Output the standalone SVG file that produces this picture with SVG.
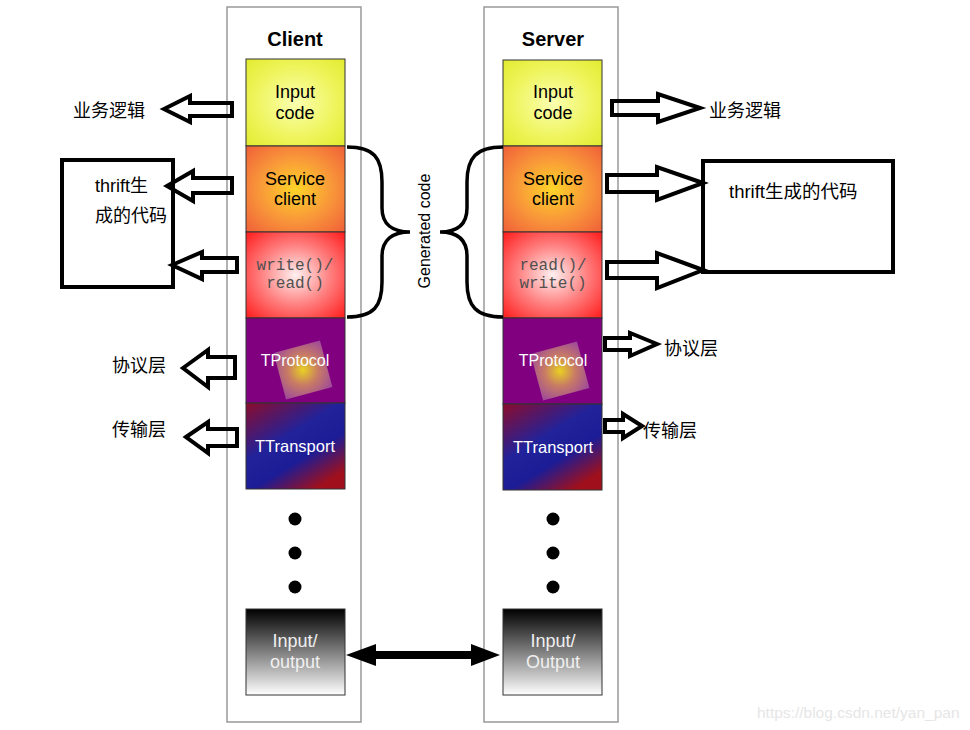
<svg xmlns="http://www.w3.org/2000/svg" width="970" height="730" viewBox="0 0 970 730">
<defs>
<radialGradient id="gYel" cx="0.5" cy="0.5" r="0.7"><stop offset="0" stop-color="#fbffb0"/><stop offset="0.6" stop-color="#eef45a"/><stop offset="1" stop-color="#e2ec30"/></radialGradient>
<radialGradient id="gOra" cx="0.5" cy="0.5" r="0.7"><stop offset="0" stop-color="#ffd428"/><stop offset="0.55" stop-color="#f8943a"/><stop offset="1" stop-color="#f06038"/></radialGradient>
<radialGradient id="gRed" cx="0.5" cy="0.5" r="0.7"><stop offset="0" stop-color="#fff0f0"/><stop offset="0.5" stop-color="#ff8080"/><stop offset="1" stop-color="#ff1c1c"/></radialGradient>
<radialGradient id="gSq" cx="0.5" cy="0.5" r="0.7"><stop offset="0" stop-color="#f4e818"/><stop offset="0.45" stop-color="#d08a60"/><stop offset="1" stop-color="#a050a0"/></radialGradient>
<linearGradient id="gTr" x1="0" y1="0" x2="0.7" y2="1"><stop offset="0" stop-color="#8c0c2c"/><stop offset="0.45" stop-color="#22229a"/><stop offset="0.7" stop-color="#1c1c96"/><stop offset="1" stop-color="#a0101c"/></linearGradient>
<linearGradient id="gIO" x1="0" y1="0" x2="0" y2="1"><stop offset="0" stop-color="#000"/><stop offset="1" stop-color="#fff"/></linearGradient>
<style>
.col{fill:#fff;stroke:#999;stroke-width:1.5}
.blk{stroke:#333;stroke-width:1}
.title{font-family:"Liberation Sans",Arial,sans-serif;font-weight:bold;font-size:20px;text-anchor:middle;fill:#000}
.t{font-family:"Liberation Sans",Arial,sans-serif;font-size:18px;text-anchor:middle;fill:#000}
.mono{font-family:"Liberation Mono","Courier New",monospace;font-size:16px;text-anchor:middle;fill:#505050}
.w{font-family:"Liberation Sans",Arial,sans-serif;font-size:16px;text-anchor:middle;fill:#fff}
.io{font-family:"Liberation Sans",Arial,sans-serif;font-size:18px;text-anchor:middle;fill:#f0f0f0}
.cn{font-family:"Liberation Sans","Noto Sans CJK SC",sans-serif;font-size:18px;fill:#000}
.barrow{fill:none;stroke:#000;stroke-width:4;stroke-linejoin:miter}
.brace{fill:none;stroke:#000;stroke-width:3.5}
.box{fill:none;stroke:#000;stroke-width:4}
</style>
</defs>
<rect width="970" height="730" fill="#fff"/>

<g id="client">
<rect class="col" x="227" y="7" width="134" height="715"/>
<text class="title" x="295" y="46">Client</text>
<g id="client-input"><rect class="blk" x="246" y="59" width="99" height="87" fill="url(#gYel)"/><text class="t" x="295" y="98">Input</text><text class="t" x="295" y="119">code</text></g>
<g id="client-service"><rect class="blk" x="246" y="146" width="99" height="86" fill="url(#gOra)"/><text class="t" x="295" y="185">Service</text><text class="t" x="295" y="205">client</text></g>
<g id="client-rw"><rect class="blk" x="246" y="232" width="99" height="86" fill="url(#gRed)"/><text class="mono" x="295" y="270">write()/</text><text class="mono" x="295" y="288">read()</text></g>
<g id="client-protocol"><rect class="blk" x="246" y="318" width="99" height="85" fill="#800080"/><rect x="279" y="346" width="48" height="48" fill="url(#gSq)" opacity="0.9" transform="rotate(-15 303 370)"/><text class="w" x="295" y="366">TProtocol</text></g>
<g id="client-transport"><rect class="blk" x="246" y="403" width="99" height="86" fill="url(#gTr)"/><text class="w" x="295" y="452" style="font-size:16.5px">TTransport</text></g>
<circle cx="295" cy="519" r="6.5"/><circle cx="295" cy="553" r="6.5"/><circle cx="295" cy="587" r="6.5"/>
<g id="client-io"><rect class="blk" x="246" y="609" width="99" height="86" fill="url(#gIO)"/><text class="io" x="295" y="647">Input/</text><text class="io" x="295" y="668">output</text></g>
</g>

<g id="server">
<rect class="col" x="484" y="7" width="134" height="715"/>
<text class="title" x="553" y="46">Server</text>
<g id="server-input"><rect class="blk" x="503" y="60" width="99" height="86" fill="url(#gYel)"/><text class="t" x="553" y="98">Input</text><text class="t" x="553" y="119">code</text></g>
<g id="server-service"><rect class="blk" x="503" y="146" width="99" height="86" fill="url(#gOra)"/><text class="t" x="553" y="185">Service</text><text class="t" x="553" y="205">client</text></g>
<g id="server-rw"><rect class="blk" x="503" y="232" width="99" height="86" fill="url(#gRed)"/><text class="mono" x="553" y="270">read()/</text><text class="mono" x="553" y="288">write()</text></g>
<g id="server-protocol"><rect class="blk" x="503" y="318" width="99" height="86" fill="#800080"/><rect x="536" y="347" width="48" height="48" fill="url(#gSq)" opacity="0.9" transform="rotate(-15 560 371)"/><text class="w" x="553" y="366">TProtocol</text></g>
<g id="server-transport"><rect class="blk" x="503" y="404" width="99" height="86" fill="url(#gTr)"/><text class="w" x="553" y="453" style="font-size:16.5px">TTransport</text></g>
<circle cx="553" cy="519" r="6.5"/><circle cx="553" cy="553" r="6.5"/><circle cx="553" cy="587" r="6.5"/>
<g id="server-io"><rect class="blk" x="503" y="609" width="99" height="86" fill="url(#gIO)"/><text class="io" x="553" y="647">Input/</text><text class="io" x="553" y="668">Output</text></g>
</g>

<g id="generated-code">
<path class="brace" d="M347,147 C374,147 382,158 382,182 L382,208 C382,224 392,232 410,232 C392,232 382,240 382,256 L382,282 C382,306 374,317 347,317"/>
<path class="brace" d="M503,147 C476,147 467,158 467,182 L467,208 C467,224 458,232 440,232 C458,232 467,240 467,256 L467,282 C467,306 476,317 503,317"/>
<text x="0" y="0" transform="translate(430,231) rotate(-90)" style="font-family:'Liberation Sans',Arial,sans-serif;font-size:16px;text-anchor:middle;fill:#000">Generated code</text>
</g>

<g id="left-labels">
<text class="cn" x="73" y="117">业务逻辑</text>
<rect class="box" x="62" y="160" width="111" height="127"/>
<text class="cn" x="95" y="192">thrift生</text>
<text class="cn" x="95" y="222">成的代码</text>
<text class="cn" x="112" y="372">协议层</text>
<text class="cn" x="112" y="436">传输层</text>
</g>

<g id="right-labels">
<text class="cn" x="709" y="117">业务逻辑</text>
<rect class="box" x="703" y="161" width="190" height="111"/>
<text class="cn" x="729" y="198" style="font-size:18.5px">thrift生成的代码</text>
<text class="cn" x="664" y="355">协议层</text>
<text class="cn" x="643" y="437">传输层</text>
</g>

<g id="connectors">
<polygon class="barrow" points="164,109 190,96 190,103 232,103 232,116 190,116 190,122"/>
<polygon class="barrow" points="167,186 193,171 193,178 232,178 232,193 193,193 193,201"/>
<polygon class="barrow" points="172,265 202,252 202,258 237,258 237,272 202,272 202,279"/>
<polygon class="barrow" points="183,368 208,350 208,357 235,357 235,378 208,378 208,387"/>
<polygon class="barrow" points="186,437 208,422 208,429 237,429 237,446 208,446 208,453"/>
<polygon class="barrow" points="700,108 658,94 658,101 612,101 612,115 658,115 658,122"/>
<polygon class="barrow" points="703,183 657,167 657,175 607,175 607,192 657,192 657,200"/>
<polygon class="barrow" points="703,270 657,253 657,262 607,262 607,278 657,278 657,288"/>
<polygon class="barrow" points="657,344 630,333 630,338 605,338 605,350 630,350 630,356"/>
<polygon class="barrow" points="642,426 623,414 623,420 605,420 605,432 623,432 623,438"/>
<polygon fill="#000" points="346,655 376,644 376,651 471,651 471,644 500,655 471,666 471,659 376,659 376,666"/>
</g>

<text x="757" y="718" style="font-family:'Liberation Sans',Arial,sans-serif;font-size:15.5px;fill:#e6e6e6">https://blog.csdn.net/yan_pan</text>
</svg>
